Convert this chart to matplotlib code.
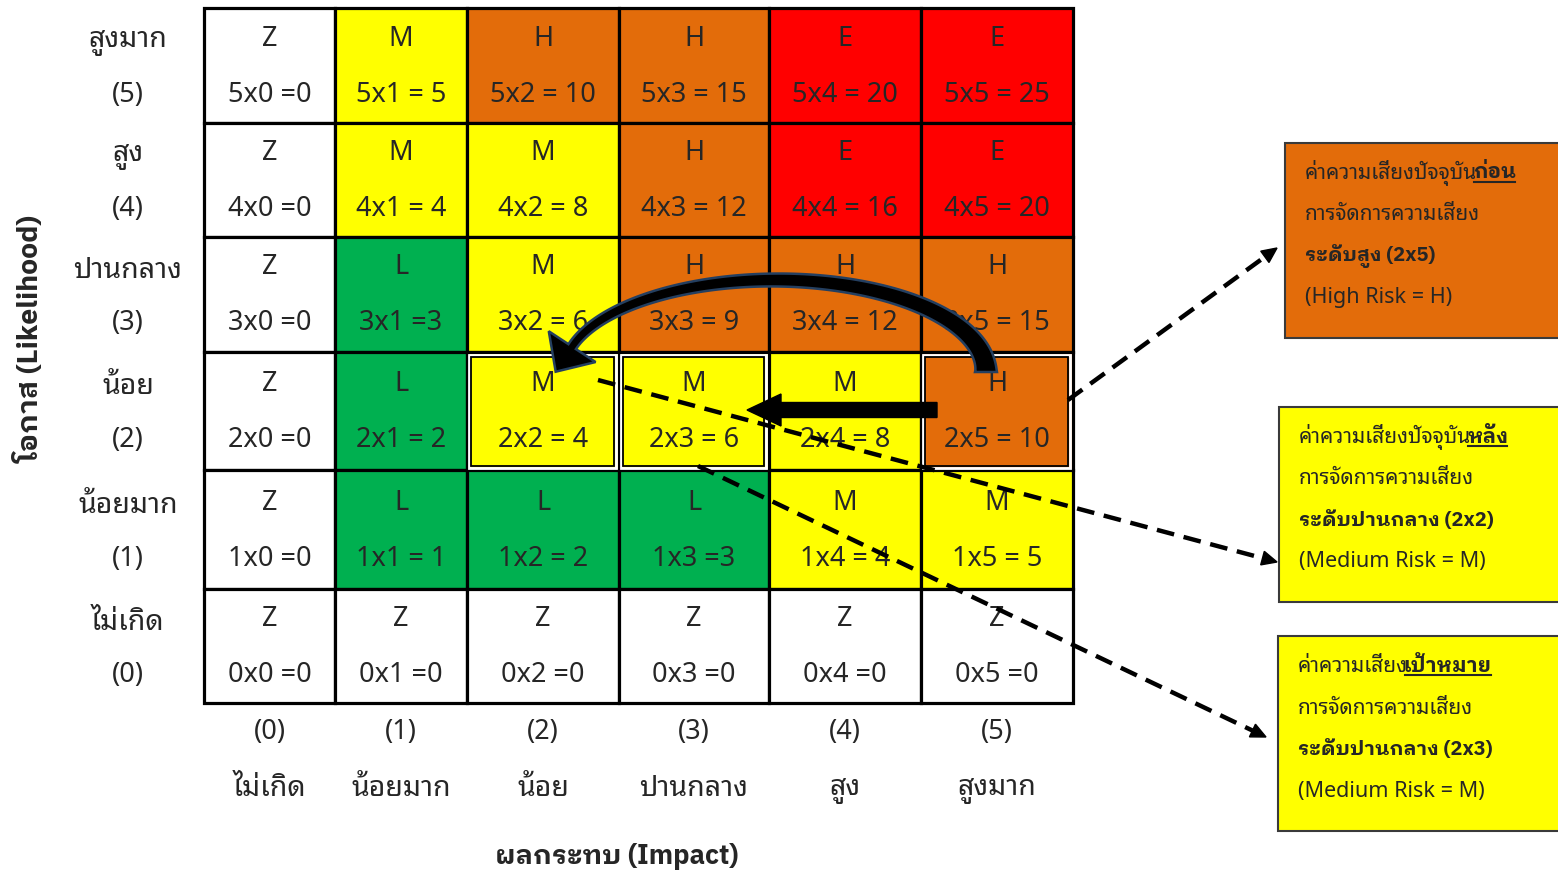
import numpy as np
import matplotlib
matplotlib.use("Agg")
import matplotlib.pyplot as plt
from matplotlib.patches import Rectangle, Polygon, FancyArrow

# ---------------- data ----------------
likelihood_labels = ["สูงมาก", "สูง", "ปานกลาง", "น้อย", "น้อยมาก", "ไม่เกิด"]
likelihood_values = ["(5)", "(4)", "(3)", "(2)", "(1)", "(0)"]
impact_labels = ["ไม่เกิด", "น้อยมาก", "น้อย", "ปานกลาง", "สูง", "สูงมาก"]
impact_values = ["(0)", "(1)", "(2)", "(3)", "(4)", "(5)"]
risk_levels = [
    ["Z", "M", "H", "H", "E", "E"],
    ["Z", "M", "M", "H", "E", "E"],
    ["Z", "L", "M", "H", "H", "H"],
    ["Z", "L", "M", "M", "M", "H"],
    ["Z", "L", "L", "L", "M", "M"],
    ["Z", "Z", "Z", "Z", "Z", "Z"],
]
cell_text = [
    ["5x0 =0", "5x1 = 5", "5x2 = 10", "5x3 = 15", "5x4 = 20", "5x5 = 25"],
    ["4x0 =0", "4x1 = 4", "4x2 = 8", "4x3 = 12", "4x4 = 16", "4x5 = 20"],
    ["3x0 =0", "3x1 =3", "3x2 = 6", "3x3 = 9", "3x4 = 12", "3x5 = 15"],
    ["2x0 =0", "2x1 = 2", "2x2 = 4", "2x3 = 6", "2x4 = 8", "2x5 = 10"],
    ["1x0 =0", "1x1 = 1", "1x2 = 2", "1x3 =3", "1x4 = 4", "1x5 = 5"],
    ["0x0 =0", "0x1 =0", "0x2 =0", "0x3 =0", "0x4 =0", "0x5 =0"],
]
highlight_cells = [(3, 2), (3, 3), (3, 5)]   # (row, col)
y_title = "โอกาส (Likelihood)"
x_title = "ผลกระทบ (Impact)"
notes = [
    ("ค่าความเสี่ยงปัจจุบัน", "ก่อน", "ระดับสูง (2x5)", "(High Risk = H)", "H"),
    ("ค่าความเสี่ยงปัจจุบัน", "หลัง", "ระดับปานกลาง (2x2)", "(Medium Risk = M)", "M"),
    ("ค่าความเสี่ยง", "เป้าหมาย", "ระดับปานกลาง (2x3)", "(Medium Risk = M)", "M"),
]

# ---------------- styles ----------------
level_colors = {"Z": "#FFFFFF", "L": "#00B050", "M": "#FFFF00",
                "H": "#E36C0A", "E": "#FF0000"}
col_edges = [204, 335, 467, 619, 769, 921, 1073]
row_edges = [8, 123, 237, 352, 470, 589, 703]

REG = ["Noto Sans", "Noto Sans Thai Looped", "DejaVu Sans"]
BOLD = ["IBM Plex Sans Thai Looped", "Noto Sans Thai Looped", "DejaVu Sans"]
plt.rcParams["font.family"] = REG
TXT = "#262626"
FS = 19.5

fig = plt.figure(figsize=(15.58, 8.74), dpi=100)
ax = fig.add_axes([0, 0, 1, 1])
ax.set_xlim(0, 1558)
ax.set_ylim(874, 0)
ax.axis("off")

# cells
for r in range(6):
    for c in range(6):
        x0, x1 = col_edges[c], col_edges[c + 1]
        y0, y1 = row_edges[r], row_edges[r + 1]
        ax.add_patch(Rectangle((x0, y0), x1 - x0, y1 - y0,
                               facecolor=level_colors[risk_levels[r][c]],
                               edgecolor="black", lw=2.3, zorder=1))
        xc = (x0 + x1) / 2
        yc = (y0 + y1) / 2
        ax.text(xc, yc - 27, risk_levels[r][c], ha="center", va="center",
                fontsize=FS, color=TXT, zorder=3)
        ax.text(xc, yc + 29, cell_text[r][c], ha="center", va="center",
                fontsize=FS, color=TXT, zorder=3)

for (r, c) in highlight_cells:
    x0, x1 = col_edges[c], col_edges[c + 1]
    y0, y1 = row_edges[r], row_edges[r + 1]
    ax.add_patch(Rectangle((x0 + 2.5, y0 + 2.5), x1 - x0 - 5, y1 - y0 - 5,
                           facecolor="none", edgecolor="white", lw=2, zorder=2))
    ax.add_patch(Rectangle((x0 + 4.5, y0 + 4.5), x1 - x0 - 9, y1 - y0 - 9,
                           facecolor="none", edgecolor="black", lw=1.3, zorder=2))

# row labels
for r in range(6):
    yc = (row_edges[r] + row_edges[r + 1]) / 2
    ax.text(128, yc - 24, likelihood_labels[r], ha="center", va="center",
            fontsize=20.5, color=TXT)
    ax.text(128, yc + 29, likelihood_values[r], ha="center", va="center",
            fontsize=FS, color=TXT)
# column labels
for c in range(6):
    xc = (col_edges[c] + col_edges[c + 1]) / 2
    ax.text(xc, 732, impact_values[c], ha="center", va="center",
            fontsize=FS, color=TXT)
    ax.text(xc, 789, impact_labels[c], ha="center", va="center",
            fontsize=20.5, color=TXT)

ax.text(617, 857, x_title, ha="center", va="center", fontsize=19.5,
        fontweight="bold", color=TXT, family=BOLD)
ax.text(30, 339, y_title, ha="center", va="center", fontsize=20.5,
        fontweight="bold", color=TXT, rotation=90, family=BOLD)

# curved arrow (from cell 2x5 up and over to cell 2x2)
cx, cy, rx, ry = 775, 372, 211, 92
th_end = np.deg2rad(164)
th = np.linspace(0, th_end, 150)
P = np.stack([cx + rx * np.cos(th), cy - ry * np.sin(th)], axis=1)
T = np.stack([-rx * np.sin(th), -ry * np.cos(th)], axis=1)
T /= np.linalg.norm(T, axis=1)[:, None]
N = np.stack([T[:, 1], -T[:, 0]], axis=1)
w = 22 - 13 * (th / th_end) ** 0.6
outer = P + (w / 2)[:, None] * N
inner = P - (w / 2)[:, None] * N
B, Tb, Nb = P[-1], T[-1], N[-1]
head = [B + 28 * Nb, B + 30 * Tb, B - 28 * Nb]
poly = np.vstack([outer, head, inner[::-1]])
ax.add_patch(Polygon(poly, closed=True, facecolor="black",
                     edgecolor="#243F60", lw=1.8, zorder=6))

# straight arrow
ax.add_patch(FancyArrow(937, 410, -190, 0, width=15, head_width=32,
                        head_length=34, length_includes_head=True,
                        color="black", zorder=6))

# dashed pointer lines


def dashed_arrow(p0, p1):
    p0 = np.array(p0, float)
    p1 = np.array(p1, float)
    d = (p1 - p0) / np.linalg.norm(p1 - p0)
    n = np.array([d[1], -d[0]])
    base = p1 - 15 * d
    ax.plot([p0[0], base[0]], [p0[1], base[1]], color="black", lw=3.2,
            dashes=(4, 2.2), zorder=7, solid_capstyle="butt")
    ax.add_patch(Polygon([p1, base + 7 * n, base - 7 * n], closed=True,
                         color="black", zorder=7))


dashed_arrow((1068, 400), (1277, 248))
dashed_arrow((598, 380), (1277, 562))
dashed_arrow((698, 466), (1266, 737))

# note boxes
boxes = [(1285, 143), (1279, 407), (1278, 636)]
fig.canvas.draw()
renderer = fig.canvas.get_renderer()
inv = ax.transData.inverted()
for (bx, by), (l1a, l1b, l3, l4, lvl) in zip(boxes, notes):
    ax.add_patch(Rectangle((bx, by), 300, 195, facecolor=level_colors[lvl],
                           edgecolor="#3a3a3a", lw=1.5, zorder=4))
    tx = bx + 20
    t1 = ax.text(tx, by + 30, l1a, ha="left", va="center", fontsize=15,
                 color=TXT, zorder=5)
    t2 = ax.annotate(l1b, xy=(1, 0.5), xycoords=t1, xytext=(-3, 0),
                     textcoords="offset points", ha="left", va="center",
                     fontsize=15, fontweight="bold", color=TXT, zorder=5,
                     family=BOLD)
    ax.text(tx, by + 72, "การจัดการความเสี่ยง", ha="left", va="center",
            fontsize=15, color=TXT, zorder=5)
    ax.text(tx, by + 113, l3, ha="left", va="center", fontsize=14.5,
            fontweight="bold", color=TXT, zorder=5, family=BOLD)
    ax.text(tx, by + 155, l4, ha="left", va="center", fontsize=15.5,
            color=TXT, zorder=5)
    fig.canvas.draw()
    bb = t2.get_window_extent(renderer)
    (ux0, uy0), (ux1, uy1) = inv.transform([[bb.x0, bb.y0], [bb.x1, bb.y1]])
    ax.plot([ux0 + 1, ux1 - 1], [uy0 - 1, uy0 - 1], color=TXT, lw=1.5,
            zorder=5)

fig.savefig("out.png", dpi=100)
